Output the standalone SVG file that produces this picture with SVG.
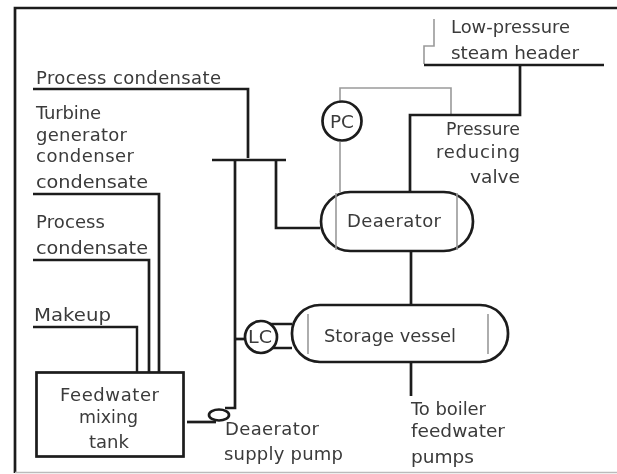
<svg xmlns="http://www.w3.org/2000/svg" width="617" height="474" viewBox="0 0 617 474">
<style>
text{font-family:"DejaVu Sans","Liberation Sans",sans-serif;font-size:18px;fill:#3a3a3a}
.w{fill:none;stroke:#1c1c1c;stroke-width:2.700}
.t{fill:none;stroke:#1c1c1c;stroke-width:2.400}
.g{fill:none;stroke:#9a9a9a;stroke-width:1.600}
.n{fill:#fff;stroke:#1c1c1c;stroke-width:2.700}
</style>
<defs><filter id="s" x="-2%" y="-2%" width="104%" height="104%"><feGaussianBlur stdDeviation="0.5"/></filter></defs>
<rect width="617" height="474" fill="#fff"/>
<g filter="url(#s)">
<g id="frame">
<path class="w" d="M15 473V8H617"/>
<path d="M15 472.500H617" fill="none" stroke="#bbb" stroke-width="1.500"/>
</g>
<g id="connectors">
<path class="g" d="M434 19V46H424V64"/>
<path class="g" d="M340 102V88H451V115M340 142V192"/>
<path class="w" d="M424 65H604"/>
<path class="w" d="M520 65V115H410V192"/>
<path class="w" d="M33 89H248V158"/>
<path class="w" d="M212 160H286"/>
<path class="w" d="M276 160V228H320"/>
<path class="w" d="M235 160V408H225"/>
<path class="w" d="M235 339H245"/>
<path class="w" d="M411 251V305"/>
<path class="w" d="M411 362V396"/>
<path class="w" d="M33 194H159V372"/>
<path class="w" d="M33 260H149V372"/>
<path class="t" d="M33 327H137V372"/>
<path class="w" d="M187 422H216"/>
<path class="w" d="M265 324H292M265 348H292"/>
</g>
<g id="pc"><circle class="n" cx="342" cy="121" r="19.500"/><text x="330" y="128" textLength="24" lengthAdjust="spacingAndGlyphs">PC</text></g>
<g id="deaerator">
<rect class="n" x="321" y="192" width="152" height="59" rx="29.500"/>
<path class="g" d="M336 193V250M457 193V250"/>
<text x="347" y="227" textLength="94">Deaerator</text>
</g>
<g id="storage-vessel">
<rect class="n" x="292" y="305" width="216" height="57" rx="28"/>
<path class="g" d="M308 314V354M488 314V354"/>
<text x="324" y="342" textLength="132" lengthAdjust="spacingAndGlyphs">Storage vessel</text>
</g>
<g id="lc"><circle class="n" cx="261" cy="337" r="16"/><text x="248" y="343" textLength="24" lengthAdjust="spacingAndGlyphs">LC</text></g>
<g id="mixing-tank">
<rect class="n" x="36.500" y="372.500" width="147" height="84"/>
<text x="60" y="401" textLength="99">Feedwater</text>
<text x="79" y="423" textLength="59" lengthAdjust="spacingAndGlyphs">mixing</text>
<text x="89" y="448" textLength="40" lengthAdjust="spacingAndGlyphs">tank</text>
</g>
<g id="supply-pump"><ellipse class="n" cx="219" cy="415" rx="10" ry="5.500"/></g>
<g id="labels">
<text x="36" y="84" textLength="185">Process condensate</text>
<text x="36" y="119" textLength="65">Turbine</text>
<text x="36" y="141" textLength="91">generator</text>
<text x="36" y="162" textLength="98">condenser</text>
<text x="36" y="188" textLength="112" lengthAdjust="spacingAndGlyphs">condensate</text>
<text x="36" y="228" textLength="69">Process</text>
<text x="36" y="254" textLength="112" lengthAdjust="spacingAndGlyphs">condensate</text>
<text x="34" y="321" textLength="77" lengthAdjust="spacingAndGlyphs">Makeup</text>
<text x="225" y="435" textLength="94">Deaerator</text>
<text x="224" y="460" textLength="119">supply pump</text>
<text x="411" y="415" textLength="75">To boiler</text>
<text x="411" y="437" textLength="94" lengthAdjust="spacingAndGlyphs">feedwater</text>
<text x="411" y="463" textLength="63" lengthAdjust="spacingAndGlyphs">pumps</text>
<text x="451" y="33" textLength="119" lengthAdjust="spacingAndGlyphs">Low-pressure</text>
<text x="451" y="59" textLength="128" lengthAdjust="spacingAndGlyphs">steam header</text>
<text x="446" y="135" textLength="74" lengthAdjust="spacingAndGlyphs">Pressure</text>
<text x="436" y="158" textLength="84">reducing</text>
<text x="470" y="183" textLength="50" lengthAdjust="spacingAndGlyphs">valve</text>
</g>
</g>
</svg>
